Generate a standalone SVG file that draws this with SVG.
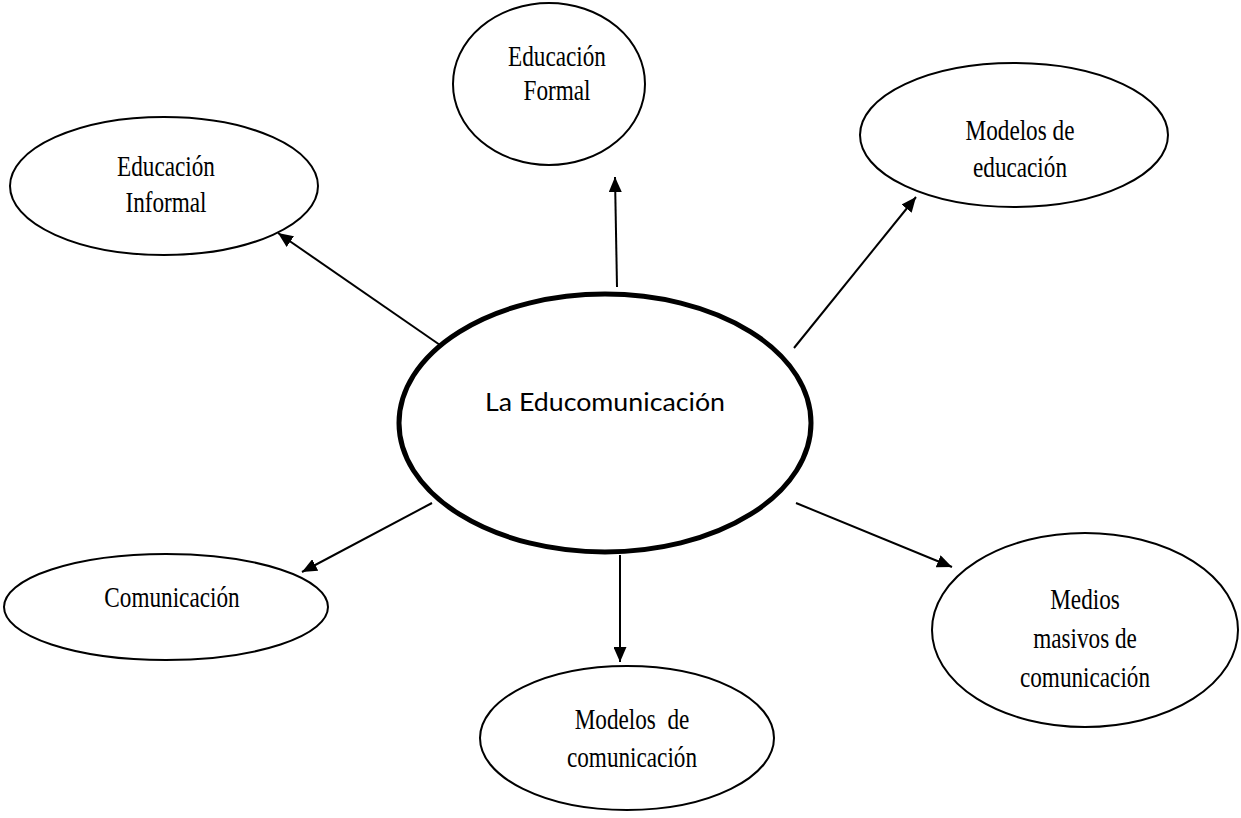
<svg xmlns="http://www.w3.org/2000/svg" width="1241" height="818" viewBox="0 0 1241 818">
<style>
.n ellipse{fill:#fff;stroke:#000;stroke-width:2}
.t{font-family:"Liberation Serif","Times New Roman",serif;font-size:29px;fill:#000;text-anchor:middle}
.c line{stroke:#000;stroke-width:2}
</style>
<defs>
<marker id="ah" markerWidth="15" markerHeight="13" refX="15" refY="6.5" orient="auto" markerUnits="userSpaceOnUse">
<path d="M0,0 L15,6.5 L0,13 Z" fill="#000"/>
</marker>
</defs>
<rect width="1241" height="818" fill="#fff"/>
<g class="c">
<line x1="440" y1="345" x2="278" y2="233" marker-end="url(#ah)"/>
<line x1="617" y1="287" x2="615" y2="177" marker-end="url(#ah)"/>
<line x1="794" y1="348" x2="916" y2="197" marker-end="url(#ah)"/>
<line x1="432" y1="503" x2="302" y2="572" marker-end="url(#ah)"/>
<line x1="620" y1="555" x2="620" y2="662" marker-end="url(#ah)"/>
<line x1="796" y1="503" x2="952" y2="567" marker-end="url(#ah)"/>
</g>
<g id="center" class="n">
<ellipse cx="605" cy="423" rx="206" ry="129" style="stroke-width:5"/>
<text x="605" y="411" textLength="240" lengthAdjust="spacingAndGlyphs" style="font-family:Lato,'Liberation Sans',sans-serif;font-size:25px;text-anchor:middle">La Educomunicación</text>
</g>
<g id="formal" class="n">
<ellipse cx="549" cy="84" rx="96" ry="81"/>
<g transform="translate(557,0) scale(0.8,1)">
<text class="t" x="0" y="66">Educación</text>
<text class="t" x="0" y="100">Formal</text>
</g>
</g>
<g id="informal" class="n">
<ellipse cx="164" cy="186" rx="154" ry="69"/>
<g transform="translate(166,0) scale(0.8,1)">
<text class="t" x="0" y="176">Educación</text>
<text class="t" x="0" y="212">Informal</text>
</g>
</g>
<g id="modeloseducacion" class="n">
<ellipse cx="1014" cy="135" rx="154" ry="72"/>
<g transform="translate(1020,0) scale(0.8,1)">
<text class="t" x="0" y="140">Modelos de</text>
<text class="t" x="0" y="177">educación</text>
</g>
</g>
<g id="comunicacion" class="n">
<ellipse cx="166" cy="607" rx="162" ry="53"/>
<g transform="translate(172,0) scale(0.8,1)">
<text class="t" x="0" y="607">Comunicación</text>
</g>
</g>
<g id="modeloscomunicacion" class="n">
<ellipse cx="627" cy="738" rx="147" ry="72"/>
<g transform="translate(632,0) scale(0.8,1)">
<text class="t" x="0" y="729" xml:space="preserve">Modelos  de</text>
<text class="t" x="0" y="767">comunicación</text>
</g>
</g>
<g id="medios" class="n">
<ellipse cx="1085" cy="630" rx="153" ry="97"/>
<g transform="translate(1085,0) scale(0.8,1)">
<text class="t" x="0" y="609">Medios</text>
<text class="t" x="0" y="648">masivos de</text>
<text class="t" x="0" y="687">comunicación</text>
</g>
</g>
</svg>
